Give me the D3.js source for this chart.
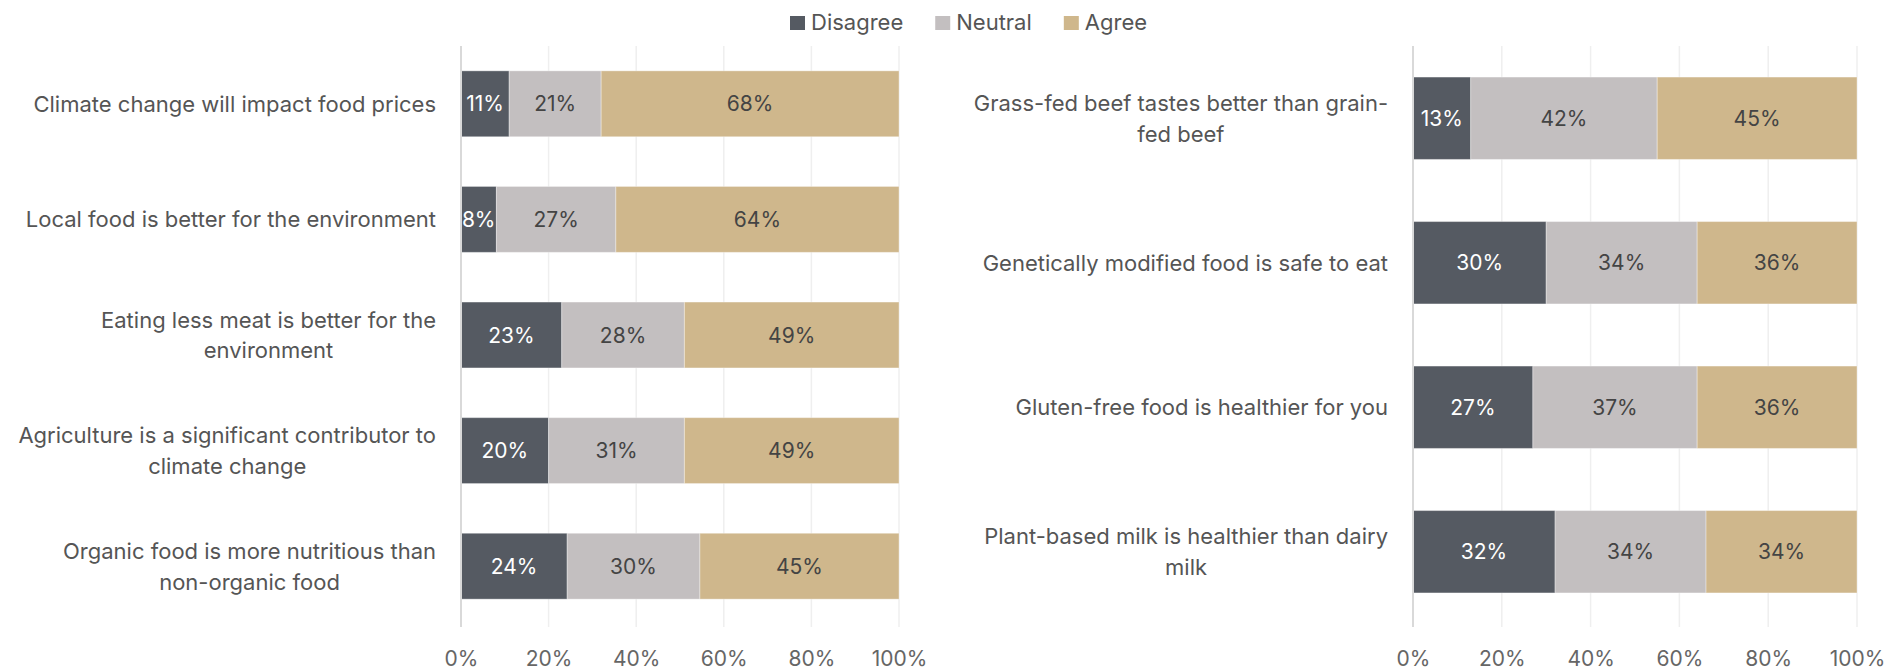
<!DOCTYPE html>
<html>
<head>
<meta charset="utf-8">
<script src="https://cdn.jsdelivr.net/npm/d3@7"></script>
<style>
  html, body { margin: 0; padding: 0; background: #fff; }
  svg { display: block; font-family: Inter, "Noto Sans", sans-serif; }
</style>
</head>
<body>
<svg id="chart" width="1904" height="670"></svg>
<script>
// Survey statements, split across two panels
const leftCategories = [
  "Climate change will impact food prices",
  "Local food is better for the environment",
  "Eating less meat is better for the\nenvironment",
  "Agriculture is a significant contributor to\nclimate change",
  "Organic food is more nutritious than\nnon-organic food"
];
const leftDisagree = [11, 8, 23, 20, 24];
const leftNeutral  = [21, 27, 28, 31, 30];
const leftAgree    = [68, 64, 49, 49, 45];

const rightCategories = [
  "Grass-fed beef tastes better than grain-\nfed beef",
  "Genetically modified food is safe to eat",
  "Gluten-free food is healthier for you",
  "Plant-based milk is healthier than dairy\nmilk"
];
const rightDisagree = [13, 30, 27, 32];
const rightNeutral  = [42, 34, 37, 34];
const rightAgree    = [45, 36, 36, 34];

const seriesNames = ["Disagree", "Neutral", "Agree"];
const xTicks = [0, 0.2, 0.4, 0.6, 0.8, 1];

const colors = { Disagree: "#555a62", Neutral: "#c3bfc0", Agree: "#cfb78c" };
const valueColors = { Disagree: "#ffffff", Neutral: "#444444", Agree: "#444444" };

const svg = d3.select("#chart");

function panel(categories, disagree, neutral, agree, x0, x1) {
  const top = 46, bottom = 624;
  const rows = categories.map((c, i) => ({
    category: c, Disagree: disagree[i], Neutral: neutral[i], Agree: agree[i]
  }));

  const x = d3.scaleLinear().domain([0, 1]).range([x0, x1]);
  const y = d3.scaleBand().domain(categories).range([top, bottom])
    .paddingInner(0.43).paddingOuter(0.215);

  const stacked = d3.stack().keys(seriesNames).offset(d3.stackOffsetExpand)(rows);

  const g = svg.append("g");

  // vertical gridlines
  g.append("g")
    .selectAll("line")
    .data(xTicks.filter(t => t > 0))
    .join("line")
    .attr("x1", d => x(d)).attr("x2", d => x(d))
    .attr("y1", top).attr("y2", bottom + 3)
    .attr("stroke", "#efefef").attr("stroke-width", 1.5);

  // x axis labels
  const xAxis = d3.axisBottom(x).tickValues(xTicks)
    .tickFormat(d3.format(".0%")).tickSize(0).tickPadding(0);
  const ax = g.append("g").attr("transform", `translate(0,${bottom})`).call(xAxis);
  ax.select(".domain").remove();
  ax.selectAll("text")
    .attr("y", 42).attr("dy", 0)
    .attr("fill", "#666").style("font-size", "21px")
    .style("font-family", "Inter, 'Noto Sans', sans-serif");

  // stacked bars
  const layer = g.append("g").selectAll("g")
    .data(stacked).join("g")
    .attr("fill", d => colors[d.key]);

  layer.selectAll("rect")
    .data(d => d.map(p => ({ key: d.key, p })))
    .join("rect")
    .attr("x", d => x(d.p[0]))
    .attr("width", d => x(d.p[1]) - x(d.p[0]))
    .attr("y", d => y(d.p.data.category))
    .attr("height", y.bandwidth())
    .attr("stroke", "rgba(255,255,255,0.35)")
    .attr("stroke-width", 1);

  // value labels
  layer.selectAll("text")
    .data(d => d.map(p => ({ key: d.key, p })))
    .join("text")
    .attr("x", d => (x(d.p[0]) + x(d.p[1])) / 2)
    .attr("y", d => y(d.p.data.category) + y.bandwidth() / 2)
    .attr("text-anchor", "middle")
    .attr("dominant-baseline", "central")
    .attr("fill", d => valueColors[d.key])
    .style("font-size", "21px")
    .text(d => d.p.data[d.key] + "%");

  // baseline axis line
  g.append("line")
    .attr("x1", x(0)).attr("x2", x(0))
    .attr("y1", top).attr("y2", bottom + 3)
    .attr("stroke", "#d9d9d9").attr("stroke-width", 2);

  // category labels: multi-line blocks, lines centred within the block,
  // block right-aligned next to the axis
  const lh = 30.6;
  const labelRight = x0 - 25;
  categories.forEach(c => {
    const lines = c.split("\n");
    const cy = y(c) + y.bandwidth() / 2;
    const t = g.append("text")
      .attr("fill", "#555")
      .style("font-size", "22px")
      .attr("text-anchor", "middle")
      .attr("dominant-baseline", "central");
    const spans = lines.map((line, i) =>
      t.append("tspan")
        .attr("y", cy + (i - (lines.length - 1) / 2) * lh)
        .text(line));
    const maxW = d3.max(spans, s => s.node().getComputedTextLength());
    spans.forEach(s => s.attr("x", labelRight - maxW / 2));
  });
}

panel(leftCategories, leftDisagree, leftNeutral, leftAgree, 461, 899);
panel(rightCategories, rightDisagree, rightNeutral, rightAgree, 1413, 1857);

// legend
const legend = svg.append("g");
let lx = 790;
seriesNames.forEach(name => {
  legend.append("rect")
    .attr("x", lx).attr("y", 16).attr("width", 15).attr("height", 14)
    .attr("fill", colors[name]);
  const t = legend.append("text")
    .attr("x", lx + 21).attr("y", 29.5)
    .attr("fill", "#555").style("font-size", "22px")
    .text(name);
  lx += 21 + t.node().getComputedTextLength() + 32;
});
</script>
</body>
</html>
